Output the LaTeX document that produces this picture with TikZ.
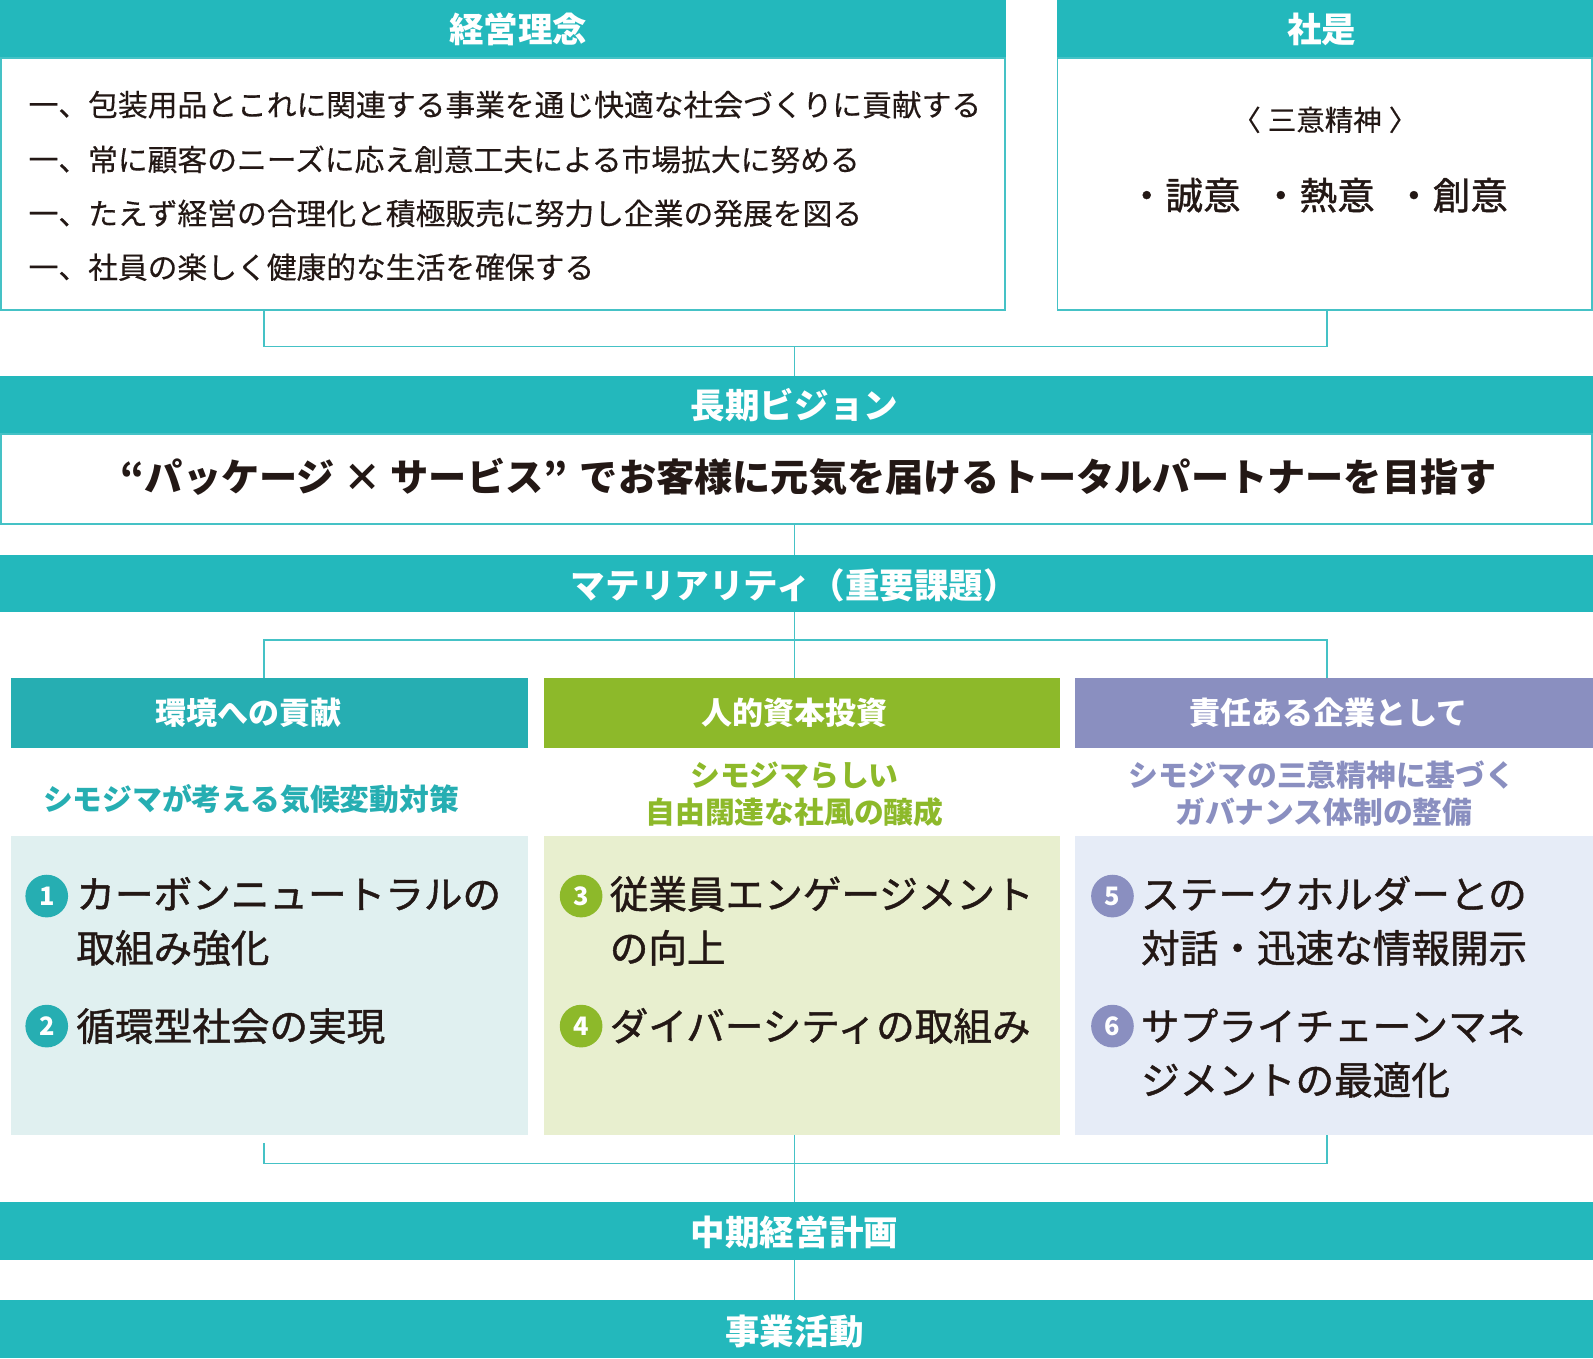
\documentclass[tikz,border=0pt]{standalone}
\usepackage{fontspec}
\newfontfamily\jp{Noto Sans CJK JP}
\newfontfamily\jpm{Noto Sans CJK JP}[FakeBold=0.35]
\newfontfamily\jpmm{Noto Sans CJK JP}[FakeBold=1.1]
\newcommand\jfs[2]{\fontsize{#1}{#2}\selectfont}
\definecolor{tealmain}{HTML}{23B8BC}
\definecolor{tealtwo}{HTML}{26AEB2}
\definecolor{grn}{HTML}{8DB92A}
\definecolor{prp}{HTML}{8A8FC0}
\definecolor{bgone}{HTML}{E0F0F0}
\definecolor{bgtwo}{HTML}{E8EFCF}
\definecolor{bgthree}{HTML}{E6ECF7}
\definecolor{ink}{HTML}{231815}
\definecolor{lineT}{HTML}{45C2C6}
\tikzset{
  band/.style={fill=tealmain, draw=none, inner sep=0, outer sep=0, anchor=north west, minimum height=57},
  bodybox/.style={draw=lineT, line width=1.5pt, fill=white, inner sep=0, outer sep=0, anchor=north west},
  colhead/.style={draw=none, inner sep=0, outer sep=0, anchor=north west, minimum height=69},
  colbody/.style={draw=none, inner sep=0, outer sep=0, anchor=north west, minimum height=294},
  ftH/.style={inner sep=0, text=white, font=\jp\bfseries\jfs{34}{40}, text height=29.9pt, text depth=4.1pt},
  ftC/.style={inner sep=0, text=white, font=\jp\bfseries\jfs{30.5}{36}, text height=26.8pt, text depth=3.7pt},
  ftA/.style={inner sep=0, text=ink, font=\jpm\jfs{29.3}{35}, text height=25.8pt, text depth=3.5pt, anchor=west},
  ftS/.style={inner sep=0, font=\jp\bfseries\jfs{29.3}{35}, text height=25.8pt, text depth=3.5pt},
  ftI/.style={inner sep=0, text=ink, font=\jpmm\jfs{38}{45}, text height=33.4pt, text depth=4.6pt, anchor=west},
  ftV/.style={inner sep=0, text=ink, font=\jp\bfseries\jfs{37.6}{44}, text height=33.1pt, text depth=4.5pt},
  ftK/.style={inner sep=0, text=ink, font=\jpm\jfs{28}{34}, text height=24.6pt, text depth=3.4pt},
  ftL/.style={inner sep=0, text=ink, font=\jpmm\jfs{37}{44}, text height=32.6pt, text depth=4.4pt, anchor=west},
  num/.style={circle, minimum size=42, inner sep=0, text=white, font=\jp\bfseries\jfs{25}{25}},
  conn/.style={draw=lineT, line width=1.5pt}
}
\begin{document}
\begin{tikzpicture}[x=1pt,y=-1pt]
\useasboundingbox (0,0) rectangle (1568,1337);
% top boxes
\node[band, minimum width=990] (kh) at (0,0) {};
\node[ftH] (kht) at (510,29) {経営理念};
\node[bodybox, minimum width=988.5, minimum height=248] (kb) at (0.75,57) {};
\node[ftA] (k1) at (28,103) {一、包装用品とこれに関連する事業を通じ快適な社会づくりに貢献する};
\node[ftA] (k2) at (28,157) {一、常に顧客のニーズに応え創意工夫による市場拡大に努める};
\node[ftA] (k3) at (28,210) {一、たえず経営の合理化と積極販売に努力し企業の発展を図る};
\node[ftA] (k4) at (28,263) {一、社員の楽しく健康的な生活を確保する};

\node[band, minimum width=528] (sh) at (1040,0) {};
\node[ftH] (sht) at (1301,29) {社是};
\node[bodybox, minimum width=526.5, minimum height=248] (sb) at (1040.75,57) {};
\node[ftK] (s0) at (1304,118) {〈\hspace{7pt}三意精神\hspace{7pt}〉};
\node[ftL] (s1) at (1110,192) {・誠意};
\node[ftL] (s2) at (1242,192) {・熱意};
\node[ftL] (s3) at (1373,192) {・創意};

% vision
\node[band, minimum width=1568] (vh) at (0,370) {};
\node[ftH] (vht) at (782,399) {長期ビジョン};
\node[bodybox, minimum width=1566.5, minimum height=89] (vb) at (0.75,427) {};
\node[ftV] (vt) at (796,469) {“パッケージ × サービス”\hspace{12pt}でお客様に元気を届けるトータルパートナーを目指す};

% materiality
\node[band, minimum width=1568, minimum height=56] (mh) at (0,546) {};
\node[ftH] (mht) at (782,576) {マテリアリティ（重要課題）};

% columns
\node[colhead, fill=tealtwo, minimum width=509] (c1h) at (11,667) {};
\node[colhead, fill=grn, minimum width=508] (c2h) at (535,667) {};
\node[colhead, fill=prp, minimum width=510] (c3h) at (1058,667) {};
\node[ftC] (c1t) at (245,702) {環境への貢献};
\node[ftC] (c2t) at (782,702) {人的資本投資};
\node[ftC] (c3t) at (1308,702) {責任ある企業として};

\node[ftS, text=tealtwo] (u1) at (247,787) {シモジマが考える気候変動対策};
\node[ftS, text=grn] (u2a) at (782,763) {シモジマらしい};
\node[ftS, text=grn] (u2b) at (782,799) {自由闊達な社風の醸成};
\node[ftS, text=prp] (u3a) at (1301,763) {シモジマの三意精神に基づく};
\node[ftS, text=prp] (u3b) at (1303,799) {ガバナンス体制の整備};

\node[colbody, fill=bgone, minimum width=509] (c1b) at (11,823) {};
\node[colbody, fill=bgtwo, minimum width=508] (c2b) at (535,823) {};
\node[colbody, fill=bgthree, minimum width=510] (c3b) at (1058,823) {};

\node[num, fill=tealtwo] (n1) at (46,882) {1};
\node[ftI] (i1a) at (75,880) {カーボンニュートラルの};
\node[ftI] (i1b) at (75,933) {取組み強化};
\node[num, fill=tealtwo] (n2) at (46,1010) {2};
\node[ftI] (i2a) at (75,1010) {循環型社会の実現};

\node[num, fill=grn] (n3) at (572,882) {3};
\node[ftI] (i3a) at (600,880) {従業員エンゲージメント};
\node[ftI] (i3b) at (600,933) {の向上};
\node[num, fill=grn] (n4) at (572,1010) {4};
\node[ftI] (i4a) at (600,1010) {ダイバーシティの取組み};

\node[num, fill=prp] (n5) at (1095,882) {5};
\node[ftI] (i5a) at (1123,880) {ステークホルダーとの};
\node[ftI] (i5b) at (1123,933) {対話・迅速な情報開示};
\node[num, fill=prp] (n6) at (1095,1010) {6};
\node[ftI] (i6a) at (1123,1010) {サプライチェーンマネ};
\node[ftI] (i6b) at (1123,1063) {ジメントの最適化};

% bottom bands
\node[band, minimum width=1568] (ph) at (0,1183) {};
\node[ftH] (pht) at (782,1213) {中期経営計画};
\node[band, minimum width=1568] (bh) at (0,1280) {};
\node[ftH] (bht) at (782,1310) {事業活動};

% connectors
\coordinate (a1) at (260,305);
\coordinate (a2) at (1306,305);
\coordinate (j1) at (782,341);
\draw[conn] (a1) |- (j1) -| (a2);
\draw[conn] (j1) -- (j1 |- vh.north);
\draw[conn] (vb.south -| j1) -- (mh.north -| j1);
\coordinate (j2) at (782,630);
\coordinate (b1) at (260,667);
\coordinate (b2) at (1306,667);
\draw[conn] (mh.south -| j2) -- (c2h.north -| j2);
\draw[conn] (b1) |- (j2) -| (b2);
\coordinate (d1) at (260,1125);
\coordinate (d2) at (1306,1117);
\coordinate (j3) at (782,1145);
\draw[conn] (d1) |- (j3) -| (d2);
\draw[conn] (c2b.south -| j3) -- (ph.north -| j3);
\draw[conn] (ph.south -| j3) -- (bh.north -| j3);
\end{tikzpicture}
\end{document}
